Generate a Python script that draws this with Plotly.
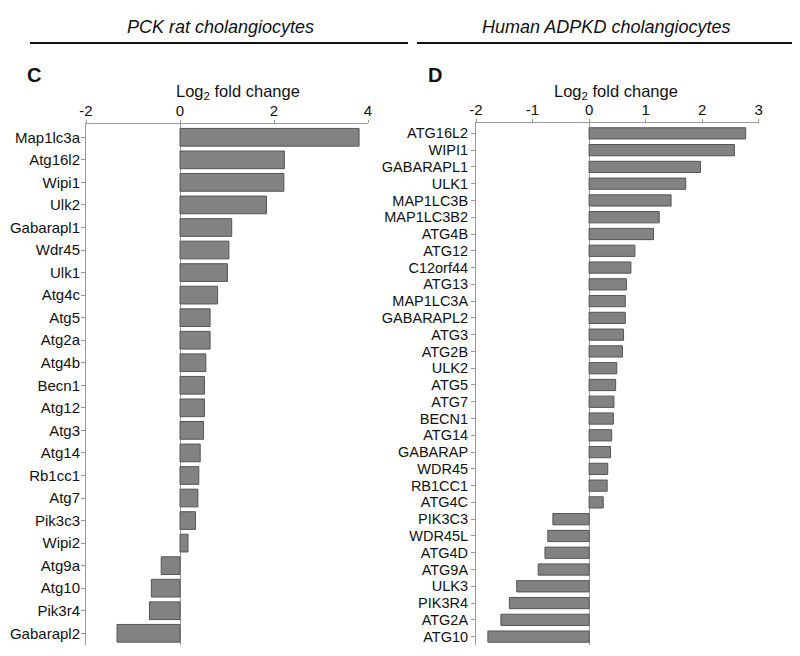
import plotly.graph_objects as go

rat_genes = ["Map1lc3a", "Atg16l2", "Wipi1", "Ulk2", "Gabarapl1", "Wdr45", "Ulk1", "Atg4c",
             "Atg5", "Atg2a", "Atg4b", "Becn1", "Atg12", "Atg3", "Atg14", "Rb1cc1", "Atg7",
             "Pik3c3", "Wipi2", "Atg9a", "Atg10", "Pik3r4", "Gabarapl2"]
rat_values = [3.81, 2.22, 2.21, 1.84, 1.10, 1.04, 1.01, 0.80, 0.64, 0.64, 0.55, 0.52, 0.52,
              0.50, 0.43, 0.40, 0.38, 0.33, 0.17, -0.40, -0.61, -0.65, -1.34]

human_genes = ["ATG16L2", "WIPI1", "GABARAPL1", "ULK1", "MAP1LC3B", "MAP1LC3B2", "ATG4B",
               "ATG12", "C12orf44", "ATG13", "MAP1LC3A", "GABARAPL2", "ATG3", "ATG2B", "ULK2",
               "ATG5", "ATG7", "BECN1", "ATG14", "GABARAP", "WDR45", "RB1CC1", "ATG4C",
               "PIK3C3", "WDR45L", "ATG4D", "ATG9A", "ULK3", "PIK3R4", "ATG2A", "ATG10"]
human_values = [2.77, 2.57, 1.97, 1.71, 1.45, 1.24, 1.14, 0.81, 0.74, 0.66, 0.64, 0.64, 0.61,
                0.59, 0.49, 0.47, 0.44, 0.43, 0.40, 0.38, 0.33, 0.32, 0.25, -0.64, -0.73,
                -0.78, -0.90, -1.28, -1.41, -1.56, -1.79]

rat_ticks = [-2, 0, 2, 4]
human_ticks = [-2, -1, 0, 1, 2, 3]

FONT = "Arial, Liberation Sans, sans-serif"
BAR = "#828282"
EDGE = "#555555"
AX = "#9a9a9a"
W, H = 800, 656
OFF = 8  # page body margin offset


def px(x):
    return (x - OFF) / W


def py(y):
    return 1 - (y - OFF) / H


fig = go.Figure()
fig.add_trace(go.Bar(x=rat_values, y=rat_genes, orientation="h", xaxis="x", yaxis="y",
                     marker=dict(color=BAR, line=dict(color=EDGE, width=1)), width=0.785))
fig.add_trace(go.Bar(x=human_values, y=human_genes, orientation="h", xaxis="x2", yaxis="y2",
                     marker=dict(color=BAR, line=dict(color=EDGE, width=1)), width=0.67))

xcommon = dict(side="top", showline=True, linecolor=AX, linewidth=1, ticks="outside",
               ticklen=3, tickcolor=AX, showgrid=False, zeroline=True, zerolinecolor=AX,
               zerolinewidth=1, automargin=False, tickmode="array", ticklabelstandoff=-2,
               tickfont=dict(family=FONT, size=15, color="#111"))
ycommon = dict(showline=True, linecolor=AX, linewidth=1, ticks="outside", ticklen=4,
               tickcolor=AX, showgrid=False, zeroline=False, type="category",
               automargin=False, dtick=1, tickmode="linear", tick0=0)

fig.update_layout(
    width=W, height=H, margin=dict(l=0, r=0, t=0, b=0),
    plot_bgcolor="white", paper_bgcolor="white", showlegend=False,
    xaxis=dict(domain=[px(86), px(368)], range=[-2, 4], tickvals=rat_ticks,
               ticktext=[str(t) for t in rat_ticks], anchor="y", **xcommon),
    yaxis=dict(domain=[py(645), py(124)], range=[len(rat_genes)-1+0.52, -0.59],
               categoryarray=rat_genes, categoryorder="array", anchor="x",
               ticklabelstandoff=-2,
               tickfont=dict(family=FONT, size=15, color="#111"), **ycommon),
    xaxis2=dict(domain=[px(476), px(758.7)], range=[-2, 3], tickvals=human_ticks,
                ticktext=[str(t) for t in human_ticks], anchor="y2", **xcommon),
    yaxis2=dict(domain=[py(645), py(123.3)], range=[len(human_genes)-1+0.5, -0.6],
                categoryarray=human_genes, categoryorder="array", anchor="x2",
                tickfont=dict(family=FONT, size=14.5, color="#111"), **ycommon),
    bargap=0.2,
)

annotations = [
    dict(text="<i>PCK rat cholangiocytes</i>", x=220, y=27, size=18),
    dict(text="<i>Human ADPKD cholangiocytes</i>", x=606, y=27, size=18),
    dict(text="<b>C</b>", x=34, y=75, size=20),
    dict(text="<b>D</b>", x=435, y=75, size=20),
    dict(text="Log<sub>2</sub> fold change", x=238, y=92, size=16.5),
    dict(text="Log<sub>2</sub> fold change", x=616, y=92, size=16.5),
]
for a in annotations:
    fig.add_annotation(text=a["text"], x=px(a["x"]), y=py(a["y"]), xref="paper", yref="paper",
                       showarrow=False, xanchor="center", yanchor="middle",
                       font=dict(family=FONT, color="#111", size=a["size"]))

fig.add_shape(type="line", xref="paper", yref="paper", x0=px(30), x1=px(408),
              y0=py(43), y1=py(43), line=dict(color="#111", width=2))
fig.add_shape(type="line", xref="paper", yref="paper", x0=px(417), x1=px(795),
              y0=py(43), y1=py(43), line=dict(color="#111", width=2))

fig.write_html("out.html")
